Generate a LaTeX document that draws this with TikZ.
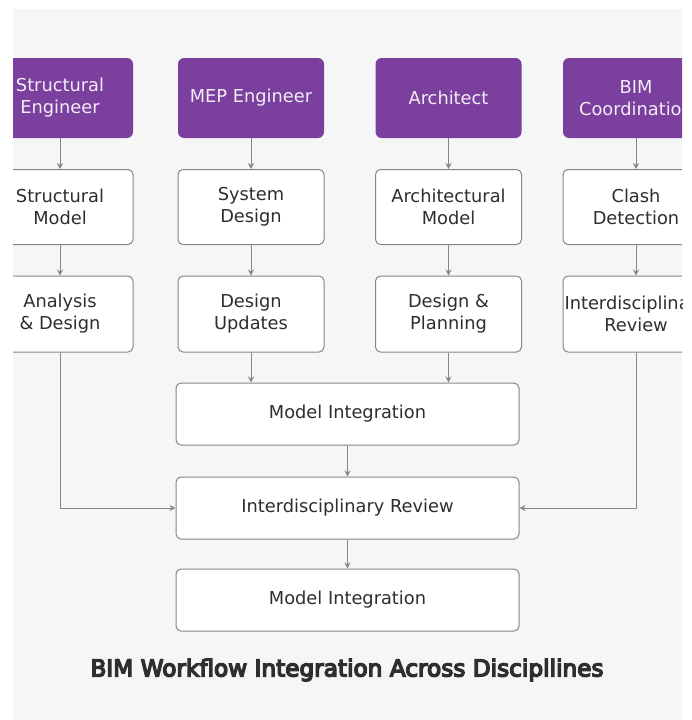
\documentclass[tikz,border=0pt]{standalone}
\usepackage{fontspec}
\setmainfont{DejaVu Sans}
\newfontfamily\titlefont[FakeBold=6]{DejaVu Sans}
\usetikzlibrary{arrows.meta}

\definecolor{rolepurple}{HTML}{7B3F9E}
\definecolor{pagegray}{HTML}{F6F6F7}
\definecolor{linegray}{HTML}{85858C}
\definecolor{textdark}{HTML}{2E2E30}

\begin{document}
\begin{tikzpicture}
  [x=1pt,y=-1pt,
    font=\fontsize{17.8}{22}\selectfont,
    role/.style={fill=rolepurple,text=white!90!rolepurple,rounded corners=6pt,
      minimum width=146pt,minimum height=80pt,align=center,inner sep=0pt},
    task/.style={draw=linegray,fill=white,text=textdark,rounded corners=5pt,
      minimum width=146pt,minimum height=75pt,align=center,inner sep=0pt,line width=1pt},
    wide/.style={task,minimum width=343pt,minimum height=62pt},
    flow/.style={draw=linegray,line width=1pt,-{Stealth[length=6pt,width=6pt]}}]

  \useasboundingbox (0,0) rectangle (692,720);
  \fill[pagegray] (13,9) rectangle (682,720);
  \clip (13,9) rectangle (682,720);

  % disciplines
  \node[role] (struct) at (60,98) {Structural\\Engineer};
  \node[role] (mep) at (251,98) {MEP Engineer};
  \node[role] (arch) at (448.5,98) {Architect};
  \node[role] (bim) at (636,98) {BIM\\Coordination};

  % first tasks
  \node[task] (smodel) at (60,207) {Structural\\Model};
  \node[task] (sysdes) at (251,207) {System\\Design};
  \node[task] (amodel) at (448.5,207) {Architectural\\Model};
  \node[task] (clash) at (636,207) {Clash\\Detection};

  % second tasks
  \node[task,minimum height=76pt] (analysis) at (60,314) {Analysis\\\& Design};
  \node[task,minimum height=76pt] (updates) at (251,314) {Design\\Updates};
  \node[task,minimum height=76pt] (planning) at (448.5,314) {Design \&\\Planning};
  \node[task,minimum height=76pt] (bimrev) at (636,314) {Interdisciplinary\\Review};

  % joint steps
  \node[wide] (integ) at (347.5,414) {Model Integration};
  \node[wide] (review) at (347.5,508) {Interdisciplinary Review};
  \node[wide] (final) at (347.5,600) {Model Integration};

  \node[text=textdark,font=\titlefont\fontsize{23.2}{28}\selectfont] (title)
    at (347,670) {BIM Workflow Integration Across Discipllines};

  \draw[flow] (struct) -- (smodel);
  \draw[flow] (mep) -- (sysdes);
  \draw[flow] (arch) -- (amodel);
  \draw[flow] (bim) -- (clash);
  \draw[flow] (smodel) -- (analysis);
  \draw[flow] (sysdes) -- (updates);
  \draw[flow] (amodel) -- (planning);
  \draw[flow] (clash) -- (bimrev);
  \draw[flow] (updates) -- (updates |- integ.north);
  \draw[flow] (planning) -- (planning |- integ.north);
  \draw[flow] (integ) -- (review);
  \draw[flow] (review) -- (final);
  \draw[flow] (analysis.south) |- (review.west);
  \draw[flow] (bimrev.south) |- (review.east);

\end{tikzpicture}
\end{document}
